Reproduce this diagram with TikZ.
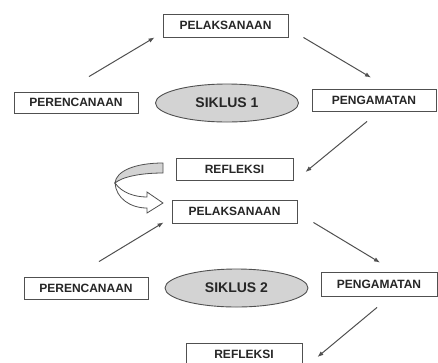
\documentclass[tikz,border=0pt]{standalone}
\usepackage{fontspec}
\setmainfont{Liberation Sans}
\usetikzlibrary{arrows.meta,shapes.geometric}
\definecolor{ln}{HTML}{505050}
\definecolor{ell}{HTML}{D3D3D3}
\begin{document}
\begin{tikzpicture}[x=1pt,y=-1pt]
\tikzset{
 box/.style={draw=ln, line width=0.9pt, fill=white, inner sep=0pt, minimum height=22pt, font=\bfseries\fontsize{12}{14}\selectfont, text=black!85},
 cyc/.style={ellipse, draw=ln, line width=0.9pt, fill=ell, minimum width=143pt, minimum height=38pt, inner sep=0pt, font=\bfseries\fontsize{14}{16}\selectfont, text=black!85},
 flow/.style={draw=ln, line width=1pt, -{Latex[length=6pt,width=4.5pt]}},
 band/.style={draw=ln, line width=0.8pt},
}
\useasboundingbox (0,0) rectangle (438,362);
\clip (0,0) rectangle (438,362);
% cycle 1
\node[box, minimum width=125pt, minimum height=23pt] (P1) at (225.5,25.5) {PELAKSANAAN};
\node[box, minimum width=124pt, minimum height=21pt] (R1) at (76,102.5) {PERENCANAAN};
\node[cyc] (E1) at (227,103) {SIKLUS 1};
\node[box, minimum width=124pt] (G1) at (374,100) {PENGAMATAN};
\node[box, minimum width=117pt] (F1) at (234.5,169) {REFLEKSI};
% cycle 2
\node[box, minimum width=125pt, minimum height=23pt] (P2) at (234.5,211.5) {PELAKSANAAN};
\node[box, minimum width=124pt] (R2) at (86,288) {PERENCANAAN};
\node[cyc] (E2) at (236.5,288) {SIKLUS 2};
\node[box, minimum width=116pt, minimum height=24pt] (G2) at (379,284) {PENGAMATAN};
\node[box, minimum width=116pt] (F2) at (244,354) {REFLEKSI};
% arrows
\draw[flow] ([shift={(13,-15)}]R1.north) -- ([shift={(-8,0)}]P1.south west);
\draw[flow] ([shift={(15,0)}]P1.south east) -- ([shift={(-3,-11)}]G1.north);
\draw[flow] ([shift={(-7,10)}]G1.south) -- ([shift={(12,3)}]F1.east);
\draw[flow] ([shift={(13,-15)}]R2.north) -- ([shift={(-8,-1)}]P2.south west);
\draw[flow] ([shift={(16,-1)}]P2.south east) -- ([shift={(1,-9)}]G2.north);
\draw[flow] ([shift={(-2,11)}]G2.south) -- ([shift={(15,3)}]F2.east);
% curved block arrow from REFLEKSI to PELAKSANAAN
\filldraw[band, fill=ell] (163,163) .. controls (135,163) and (116,171) .. (115,183)
  .. controls (122,177) and (140,173) .. (163,173) -- cycle;
\filldraw[band, fill=white] (115,183) .. controls (116,198) and (130,208) .. (147,208)
  -- (147,213) -- (163,203) -- (147,192) -- (147,197)
  .. controls (135,197) and (122,193) .. (115,183) -- cycle;
\end{tikzpicture}
\end{document}
